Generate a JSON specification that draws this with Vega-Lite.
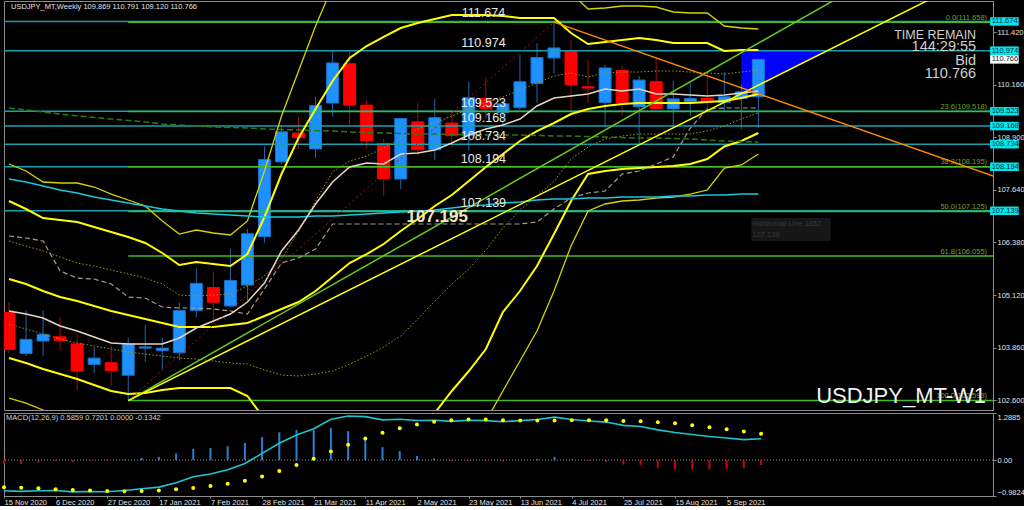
{
"$schema":"https://vega.github.io/schema/vega-lite/v6.json",
"background":"#000000",
"padding":0,
"spacing":3,
"bounds":"flush",
"config":{"view":{"stroke":"#8c8c8c","strokeWidth":1,"fill":"#000000"},"font":"Liberation Sans","axis":{"labelFont":"Liberation Sans","labelColor":"#e0e0e0","labelFontSize":7.5,"grid":false,"domainColor":"#8c8c8c","tickColor":"#8c8c8c","title":null,"labelOverlap":false,"labelBound":false}},
"datasets":{
"wk":[
{"d":"2020-11-15","o":104.70,"h":104.95,"l":103.72,"c":103.82,"u3":108.260,"u2":107.374,"u1":106.416,"m":105.505,"l1":104.428,"l2":103.613,"l3":102.655,"tk":104.739,"kj":106.535,"ma":107.901,"ol":109.601,"macd":-0.84,"sig":-0.74,"hist":-0.10},
{"d":"2020-11-22","o":103.72,"h":104.76,"l":103.66,"c":104.06,"u3":108.092,"u2":107.182,"u1":106.296,"m":105.386,"l1":104.308,"l2":103.493,"l3":102.535,"tk":104.667,"kj":106.487,"ma":107.829,"ol":109.553,"macd":-0.855,"sig":-0.755,"hist":-0.10},
{"d":"2020-11-29","o":104.02,"h":104.76,"l":103.66,"c":104.18,"u3":107.829,"u2":106.966,"u1":106.176,"m":105.218,"l1":104.188,"l2":103.350,"l3":102.368,"tk":104.571,"kj":106.416,"ma":107.733,"ol":109.505,"macd":-0.84,"sig":-0.77,"hist":-0.07},
{"d":"2020-12-06","o":104.12,"h":104.59,"l":103.80,"c":104.03,"u3":107.805,"u2":106.918,"u1":106.032,"m":105.074,"l1":104.068,"l2":103.230,"l3":102.224,"tk":104.380,"kj":105.697,"ma":107.637,"ol":109.457,"macd":-0.83,"sig":-0.80,"hist":-0.03},
{"d":"2020-12-13","o":103.95,"h":104.18,"l":102.86,"c":103.30,"u3":107.805,"u2":106.871,"u1":105.889,"m":104.978,"l1":103.972,"l2":103.110,"l3":102.104,"tk":104.260,"kj":105.529,"ma":107.565,"ol":109.410,"macd":-0.87,"sig":-0.82,"hist":-0.06},
{"d":"2020-12-20","o":103.46,"h":103.88,"l":103.24,"c":103.61,"u3":107.709,"u2":106.751,"u1":105.817,"m":104.859,"l1":103.901,"l2":102.966,"l3":101.913,"tk":104.116,"kj":105.505,"ma":107.469,"ol":109.374,"macd":-0.86,"sig":-0.83,"hist":-0.03},
{"d":"2020-12-27","o":103.50,"h":103.91,"l":102.95,"c":103.31,"u3":107.541,"u2":106.631,"u1":105.721,"m":104.739,"l1":103.829,"l2":102.823,"l3":101.745,"tk":103.972,"kj":105.386,"ma":107.398,"ol":109.338,"macd":-0.866,"sig":-0.846,"hist":-0.02},
{"d":"2021-01-03","o":103.20,"h":104.10,"l":102.593,"c":103.95,"u3":107.398,"u2":106.511,"u1":105.625,"m":104.643,"l1":103.757,"l2":102.751,"l3":101.625,"tk":103.948,"kj":105.074,"ma":107.326,"ol":109.302,"macd":-0.83,"sig":-0.85,"hist":0.02},
{"d":"2021-01-10","o":103.85,"h":104.40,"l":103.52,"c":103.88,"u3":107.254,"u2":106.368,"u1":105.529,"m":104.547,"l1":103.709,"l2":102.775,"l3":101.625,"tk":103.948,"kj":105.050,"ma":107.254,"ol":109.266,"macd":-0.786,"sig":-0.846,"hist":0.06},
{"d":"2021-01-17","o":103.79,"h":104.10,"l":103.34,"c":103.85,"u3":106.895,"u2":106.128,"u1":105.386,"m":104.451,"l1":103.661,"l2":102.847,"l3":101.673,"tk":103.948,"kj":104.835,"ma":107.182,"ol":109.218,"macd":-0.74,"sig":-0.83,"hist":0.09},
{"d":"2021-01-24","o":103.74,"h":104.94,"l":103.55,"c":104.75,"u3":106.583,"u2":105.841,"u1":105.122,"m":104.356,"l1":103.613,"l2":102.895,"l3":101.625,"tk":104.092,"kj":104.811,"ma":107.134,"ol":109.194,"macd":-0.62,"sig":-0.80,"hist":0.18},
{"d":"2021-01-31","o":104.75,"h":105.77,"l":104.59,"c":105.40,"u3":106.679,"u2":105.912,"u1":105.098,"m":104.356,"l1":103.589,"l2":102.895,"l3":101.625,"tk":104.332,"kj":104.811,"ma":107.086,"ol":109.170,"macd":-0.454,"sig":-0.764,"hist":0.31},
{"d":"2021-02-07","o":105.30,"h":105.68,"l":104.46,"c":104.95,"u3":106.607,"u2":105.865,"u1":105.122,"m":104.356,"l1":103.541,"l2":102.895,"l3":101.625,"tk":104.499,"kj":104.787,"ma":107.062,"ol":109.146,"macd":-0.38,"sig":-0.71,"hist":0.33},
{"d":"2021-02-14","o":104.86,"h":106.24,"l":104.82,"c":105.47,"u3":106.559,"u2":105.817,"u1":105.146,"m":104.404,"l1":103.493,"l2":102.895,"l3":101.625,"tk":104.667,"kj":104.739,"ma":107.038,"ol":109.134,"macd":-0.266,"sig":-0.646,"hist":0.38},
{"d":"2021-02-21","o":105.36,"h":106.70,"l":104.99,"c":106.59,"u3":106.895,"u2":106.104,"u1":105.338,"m":104.451,"l1":103.469,"l2":102.703,"l3":101.386,"tk":104.954,"kj":104.667,"ma":107.014,"ol":109.122,"macd":-0.094,"sig":-0.564,"hist":0.47},
{"d":"2021-02-28","o":106.52,"h":108.68,"l":106.37,"c":108.37,"u3":108.092,"u2":106.990,"u1":105.577,"m":104.619,"l1":103.326,"l2":102.152,"l3":100.667,"tk":105.410,"kj":105.266,"ma":106.990,"ol":109.098,"macd":0.184,"sig":-0.446,"hist":0.63},
{"d":"2021-03-07","o":108.31,"h":109.20,"l":108.26,"c":109.03,"u3":109.410,"u2":108.020,"u1":105.984,"m":104.787,"l1":103.206,"l2":101.865,"l3":99.948,"tk":106.176,"kj":105.889,"ma":106.990,"ol":109.086,"macd":0.46,"sig":-0.30,"hist":0.76},
{"d":"2021-03-14","o":109.00,"h":109.39,"l":108.62,"c":108.89,"u3":110.487,"u2":108.883,"u1":106.655,"m":104.954,"l1":103.182,"l2":101.625,"l3":99.230,"tk":106.679,"kj":106.008,"ma":106.990,"ol":109.074,"macd":0.684,"sig":-0.136,"hist":0.82},
{"d":"2021-03-21","o":108.62,"h":109.87,"l":108.41,"c":109.66,"u3":111.565,"u2":109.577,"u1":107.374,"m":105.218,"l1":103.230,"l2":101.434,"l3":98.751,"tk":107.302,"kj":106.224,"ma":107.014,"ol":109.062,"macd":0.856,"sig":0.036,"hist":0.82},
{"d":"2021-03-28","o":109.72,"h":110.99,"l":109.39,"c":110.68,"u3":112.523,"u2":110.248,"u1":108.068,"m":105.553,"l1":103.302,"l2":101.338,"l3":98.392,"tk":107.829,"kj":106.823,"ma":107.014,"ol":109.050,"macd":1.116,"sig":0.236,"hist":0.88},
{"d":"2021-04-04","o":110.66,"h":110.96,"l":109.20,"c":109.67,"u3":113.242,"u2":110.799,"u1":108.332,"m":105.889,"l1":103.469,"l2":101.338,"l3":98.272,"tk":108.188,"kj":106.823,"ma":107.038,"ol":109.026,"macd":1.208,"sig":0.418,"hist":0.79},
{"d":"2021-04-11","o":109.67,"h":109.80,"l":108.62,"c":108.82,"u3":113.577,"u2":111.086,"u1":108.451,"m":106.104,"l1":103.661,"l2":101.386,"l3":98.392,"tk":108.284,"kj":106.823,"ma":107.062,"ol":109.014,"macd":1.19,"sig":0.59,"hist":0.60},
{"d":"2021-04-18","o":108.75,"h":108.86,"l":107.50,"c":107.91,"u3":113.769,"u2":111.302,"u1":108.643,"m":106.344,"l1":103.877,"l2":101.481,"l3":98.631,"tk":108.260,"kj":106.823,"ma":107.086,"ol":109.002,"macd":1.10,"sig":0.745,"hist":0.355},
{"d":"2021-04-25","o":107.90,"h":109.37,"l":107.66,"c":109.35,"u3":113.937,"u2":111.517,"u1":108.859,"m":106.655,"l1":104.140,"l2":101.673,"l3":99.110,"tk":108.499,"kj":106.823,"ma":107.110,"ol":108.990,"macd":1.118,"sig":0.873,"hist":0.245},
{"d":"2021-05-02","o":109.27,"h":109.73,"l":108.46,"c":108.60,"u3":113.984,"u2":111.637,"u1":109.098,"m":106.942,"l1":104.547,"l2":101.984,"l3":99.709,"tk":108.523,"kj":106.823,"ma":107.134,"ol":108.978,"macd":1.083,"sig":0.973,"hist":0.11},
{"d":"2021-05-09","o":108.60,"h":109.82,"l":108.35,"c":109.37,"u3":113.960,"u2":111.733,"u1":109.242,"m":107.254,"l1":104.978,"l2":102.296,"l3":100.428,"tk":108.595,"kj":106.823,"ma":107.158,"ol":108.978,"macd":1.091,"sig":1.046,"hist":0.045},
{"d":"2021-05-16","o":109.24,"h":109.51,"l":108.65,"c":108.94,"u3":113.984,"u2":111.829,"u1":109.410,"m":107.517,"l1":105.386,"l2":102.823,"l3":101.146,"tk":108.763,"kj":106.823,"ma":107.206,"ol":108.966,"macd":1.06,"sig":1.09,"hist":-0.03},
{"d":"2021-05-23","o":108.94,"h":110.23,"l":108.58,"c":109.85,"u3":113.817,"u2":111.829,"u1":109.577,"m":107.853,"l1":105.745,"l2":103.302,"l3":101.865,"tk":108.954,"kj":106.823,"ma":107.254,"ol":108.966,"macd":1.09,"sig":1.11,"hist":-0.02},
{"d":"2021-05-30","o":109.83,"h":110.33,"l":109.33,"c":109.58,"u3":113.649,"u2":111.829,"u1":109.745,"m":108.188,"l1":106.200,"l2":103.829,"l3":102.104,"tk":109.098,"kj":106.823,"ma":107.278,"ol":108.954,"macd":1.08,"sig":1.11,"hist":-0.03},
{"d":"2021-06-06","o":109.49,"h":109.78,"l":109.19,"c":109.70,"u3":113.457,"u2":111.805,"u1":109.865,"m":108.499,"l1":106.727,"l2":104.715,"l3":102.823,"tk":109.194,"kj":106.823,"ma":107.326,"ol":108.954,"macd":1.05,"sig":1.09,"hist":-0.04},
{"d":"2021-06-13","o":109.61,"h":110.88,"l":109.55,"c":110.23,"u3":113.218,"u2":111.757,"u1":110.032,"m":108.811,"l1":107.158,"l2":105.218,"l3":103.541,"tk":109.338,"kj":106.823,"ma":107.350,"ol":108.954,"macd":1.08,"sig":1.08,"hist":0.0},
{"d":"2021-06-20","o":110.19,"h":111.15,"l":109.73,"c":110.81,"u3":113.098,"u2":111.757,"u1":110.200,"m":109.050,"l1":107.493,"l2":105.817,"l3":104.260,"tk":109.649,"kj":106.871,"ma":107.398,"ol":108.942,"macd":1.11,"sig":1.08,"hist":0.03},
{"d":"2021-06-27","o":110.80,"h":111.658,"l":110.43,"c":111.04,"u3":113.002,"u2":111.757,"u1":110.368,"m":109.242,"l1":107.853,"l2":106.583,"l3":105.218,"tk":109.841,"kj":107.182,"ma":107.422,"ol":108.930,"macd":1.175,"sig":1.085,"hist":0.09},
{"d":"2021-07-04","o":110.96,"h":111.22,"l":109.54,"c":110.16,"u3":112.356,"u2":111.398,"u1":110.440,"m":109.457,"l1":108.380,"l2":107.374,"l3":106.296,"tk":109.889,"kj":107.445,"ma":107.422,"ol":108.930,"macd":1.11,"sig":1.09,"hist":0.02},
{"d":"2021-07-11","o":110.11,"h":110.74,"l":109.73,"c":110.08,"u3":111.972,"u2":111.134,"u1":110.344,"m":109.577,"l1":108.667,"l2":108.020,"l3":107.134,"tk":109.936,"kj":107.565,"ma":107.445,"ol":108.918,"macd":1.07,"sig":1.09,"hist":-0.02},
{"d":"2021-07-18","o":109.73,"h":110.63,"l":109.13,"c":110.56,"u3":111.996,"u2":111.182,"u1":110.440,"m":109.649,"l1":108.859,"l2":108.092,"l3":107.302,"tk":110.056,"kj":107.613,"ma":107.445,"ol":108.906,"macd":1.04,"sig":1.09,"hist":-0.05},
{"d":"2021-07-25","o":110.50,"h":110.62,"l":109.40,"c":109.73,"u3":112.044,"u2":111.230,"u1":110.463,"m":109.697,"l1":108.931,"l2":108.140,"l3":107.374,"tk":110.008,"kj":108.020,"ma":107.469,"ol":108.894,"macd":0.95,"sig":1.07,"hist":-0.12},
{"d":"2021-08-01","o":109.63,"h":110.37,"l":108.72,"c":110.27,"u3":112.044,"u2":111.278,"u1":110.463,"m":109.721,"l1":108.978,"l2":108.164,"l3":107.398,"tk":110.056,"kj":108.092,"ma":107.469,"ol":108.882,"macd":0.92,"sig":1.06,"hist":-0.14},
{"d":"2021-08-08","o":110.23,"h":110.80,"l":109.55,"c":109.59,"u3":112.020,"u2":111.230,"u1":110.487,"m":109.721,"l1":108.978,"l2":108.188,"l3":107.445,"tk":109.936,"kj":108.260,"ma":107.469,"ol":108.882,"macd":0.827,"sig":1.037,"hist":-0.21},
{"d":"2021-08-15","o":109.58,"h":110.25,"l":109.17,"c":109.82,"u3":111.901,"u2":111.158,"u1":110.487,"m":109.721,"l1":108.978,"l2":108.212,"l3":107.469,"tk":109.936,"kj":108.428,"ma":107.493,"ol":108.870,"macd":0.755,"sig":1.01,"hist":-0.255},
{"d":"2021-08-22","o":109.75,"h":110.21,"l":109.41,"c":109.83,"u3":111.877,"u2":111.158,"u1":110.463,"m":109.721,"l1":108.978,"l2":108.260,"l3":107.541,"tk":109.913,"kj":109.122,"ma":107.493,"ol":108.858,"macd":0.70,"sig":0.955,"hist":-0.255},
{"d":"2021-08-29","o":109.83,"h":110.45,"l":109.53,"c":109.75,"u3":111.877,"u2":111.158,"u1":110.440,"m":109.745,"l1":109.050,"l2":108.380,"l3":107.637,"tk":109.889,"kj":109.577,"ma":107.517,"ol":108.835,"macd":0.645,"sig":0.90,"hist":-0.255},
{"d":"2021-09-05","o":109.73,"h":110.46,"l":109.55,"c":109.87,"u3":111.565,"u2":110.966,"u1":110.416,"m":109.769,"l1":109.170,"l2":108.680,"l3":108.164,"tk":109.913,"kj":109.601,"ma":107.517,"ol":108.811,"macd":0.606,"sig":0.846,"hist":-0.24},
{"d":"2021-09-12","o":109.83,"h":110.17,"l":109.09,"c":109.99,"u3":111.517,"u2":110.990,"u1":110.463,"m":109.841,"l1":109.338,"l2":108.811,"l3":108.236,"tk":109.960,"kj":109.601,"ma":107.541,"ol":108.799,"macd":0.56,"sig":0.78,"hist":-0.22},
{"d":"2021-09-19","o":109.869,"h":110.791,"l":109.120,"c":110.766,"u3":111.493,"u2":110.990,"u1":110.511,"m":109.936,"l1":109.481,"l2":109.002,"l3":108.499,"tk":110.008,"kj":109.601,"ma":107.541,"ol":108.787,"macd":0.5859,"sig":0.7201,"hist":-0.1342}
],
"hl":[{"p":111.674,"t":"111.674"},{"p":110.974,"t":"110.974"},{"p":109.523,"t":"109.523"},{"p":109.168,"t":"109.168"},{"p":108.734,"t":"108.734"},{"p":108.194,"t":"108.194"},{"p":107.139,"t":"107.139"}],
"fib":[{"p":111.658,"lab":"0.0(111.658)"},{"p":109.519,"lab":"23.6(109.518)"},{"p":108.195,"lab":"38.2(108.195)"},{"p":107.125,"lab":"50.0(107.125)"},{"p":106.055,"lab":"61.8(106.055)"},{"p":102.593,"lab":"100.0(102.593)"}]
},
"vconcat":[
{
"width":989,"height":409,
"layer":[
{"data":{"values":[{"d":"2021-09-12","t":110.974,"b":109.98},{"d":"2021-10-17","t":110.974,"b":110.974}]},
 "mark":{"type":"area","color":"#0000ff","clip":true,"opacity":1},
 "encoding":{"x":{"field":"d","type":"temporal","axis":null,"scale":{"type":"utc","nice":false,"domain":[{"year":2020,"month":11,"date":15,"utc":true},{"year":2021,"month":12,"date":22,"hours":9,"utc":true}]}},
  "y":{"field":"t","type":"quantitative","scale":{"domain":[102.368,112.164],"nice":false,"zero":false},"axis":{"orient":"right","values":[102.6,103.23,103.86,104.49,105.12,105.75,106.38,107.01,107.64,108.27,108.9,109.53,110.16,110.79,111.42,112.05],"format":".3f","tickSize":3,"labelPadding":1}},
  "y2":{"field":"b"}}},
{"data":{"name":"wk"},"mark":{"type":"rule","strokeWidth":1,"clip":true},
 "encoding":{"x":{"field":"d","type":"temporal","axis":null},"y":{"field":"l","type":"quantitative"},"y2":{"field":"h"},
  "color":{"condition":{"test":"datum.c >= datum.o","value":"#2066aa"},"value":"#9a1010"}}},
{"data":{"name":"wk"},"mark":{"type":"bar","width":12,"strokeWidth":1,"clip":true},
 "encoding":{"x":{"field":"d","type":"temporal","axis":null},"y":{"field":"o","type":"quantitative"},"y2":{"field":"c"},
  "color":{"condition":{"test":"datum.c >= datum.o","value":"#1e90ff"},"value":"#ff0000"},
  "stroke":{"condition":{"test":"datum.c >= datum.o","value":"#1a70c8"},"value":"#ff0000"}}},
{"data":{"name":"hl"},"mark":{"type":"rule","color":"#16a0b0","strokeWidth":1.5},
 "encoding":{"y":{"field":"p","type":"quantitative"}}},
{"data":{"name":"fib"},"mark":{"type":"rule","color":"#44bb22","strokeWidth":1.5,"clip":true},
 "encoding":{"x":{"datum":{"year":2021,"month":1,"date":3,"utc":true},"type":"temporal","axis":null},"x2":{"datum":{"year":2022,"month":1,"date":10,"utc":true}},"y":{"field":"p","type":"quantitative"}}},
{"data":{"name":"fib"},"mark":{"type":"text","color":"#74a024","fontSize":7.5,"align":"right","baseline":"alphabetic","dy":-2.5,"clip":false},
 "encoding":{"x":{"datum":{"year":2021,"month":12,"date":22,"utc":true},"type":"temporal","axis":null},"y":{"field":"p","type":"quantitative"},"text":{"field":"lab"}}},
{"data":{"name":"wk"},"mark":{"type":"line","color":"#d4d400","strokeWidth":1.3,"clip":true},"encoding":{"x":{"field":"d","type":"temporal","axis":null},"y":{"field":"u3","type":"quantitative"}}},
{"data":{"name":"wk"},"mark":{"type":"line","color":"#d4d400","strokeWidth":1.3,"clip":true},"encoding":{"x":{"field":"d","type":"temporal","axis":null},"y":{"field":"l3","type":"quantitative"}}},
{"data":{"name":"wk"},"mark":{"type":"line","color":"#ffff00","strokeWidth":2,"clip":true},"encoding":{"x":{"field":"d","type":"temporal","axis":null},"y":{"field":"u2","type":"quantitative"}}},
{"data":{"name":"wk"},"mark":{"type":"line","color":"#ffff00","strokeWidth":2,"clip":true},"encoding":{"x":{"field":"d","type":"temporal","axis":null},"y":{"field":"l2","type":"quantitative"}}},
{"data":{"name":"wk"},"mark":{"type":"line","color":"#ffff00","strokeWidth":2,"clip":true},"encoding":{"x":{"field":"d","type":"temporal","axis":null},"y":{"field":"m","type":"quantitative"}}},
{"data":{"name":"wk"},"mark":{"type":"line","color":"#9c9c10","strokeWidth":1,"strokeDash":[1.5,2],"clip":true},"encoding":{"x":{"field":"d","type":"temporal","axis":null},"y":{"field":"u1","type":"quantitative"}}},
{"data":{"name":"wk"},"mark":{"type":"line","color":"#9c9c10","strokeWidth":1,"strokeDash":[1.5,2],"clip":true},"encoding":{"x":{"field":"d","type":"temporal","axis":null},"y":{"field":"l1","type":"quantitative"}}},
{"data":{"name":"wk"},"mark":{"type":"line","color":"#2a7a12","strokeWidth":1.5,"strokeDash":[6,3],"clip":true},"encoding":{"x":{"field":"d","type":"temporal","axis":null},"y":{"field":"ol","type":"quantitative"}}},
{"data":{"name":"wk"},"mark":{"type":"line","color":"#18c8dc","strokeWidth":1.5,"clip":true},"encoding":{"x":{"field":"d","type":"temporal","axis":null},"y":{"field":"ma","type":"quantitative"}}},
{"data":{"name":"wk"},"mark":{"type":"line","color":"#a89a8c","strokeWidth":1.2,"strokeDash":[5,3],"clip":true},"encoding":{"x":{"field":"d","type":"temporal","axis":null},"y":{"field":"kj","type":"quantitative"}}},
{"data":{"name":"wk"},"mark":{"type":"line","color":"#e8d6c4","strokeWidth":1.5,"clip":true},"encoding":{"x":{"field":"d","type":"temporal","axis":null},"y":{"field":"tk","type":"quantitative"}}},
{"data":{"values":[{"d":"2021-01-03","p":102.593},{"d":"2021-06-27","p":111.658}]},"mark":{"type":"line","color":"#a01818","strokeWidth":1,"strokeDash":[2,3],"clip":true},"encoding":{"x":{"field":"d","type":"temporal","axis":null},"y":{"field":"p","type":"quantitative"}}},
{"data":{"values":[{"d":"2021-01-03","p":102.593},{"d":"2021-10-31","p":112.543}]},"mark":{"type":"line","color":"#66cc1a","strokeWidth":1.5,"clip":true},"encoding":{"x":{"field":"d","type":"temporal","axis":null},"y":{"field":"p","type":"quantitative"}}},
{"data":{"values":[{"d":"2021-01-03","p":102.593},{"d":"2021-12-12","p":112.599}]},"mark":{"type":"line","color":"#ffff00","strokeWidth":1.5,"clip":true},"encoding":{"x":{"field":"d","type":"temporal","axis":null},"y":{"field":"p","type":"quantitative"}}},
{"data":{"values":[{"d":"2021-06-27","p":111.658},{"d":"2022-01-02","p":107.797}]},"mark":{"type":"line","color":"#ff8c00","strokeWidth":1.5,"clip":true},"encoding":{"x":{"field":"d","type":"temporal","axis":null},"y":{"field":"p","type":"quantitative"}}},
{"data":{"name":"hl"},"mark":{"type":"text","color":"#e8e8e8","fontSize":12.5,"align":"center","baseline":"alphabetic","dy":-4},
 "encoding":{"x":{"datum":{"year":2021,"month":5,"date":29,"utc":true},"type":"temporal","axis":null},"y":{"field":"p","type":"quantitative"},"text":{"field":"t"}}},
{"data":{"values":[{"d":"2021-05-10","p":106.99,"t":"107.195"}]},"mark":{"type":"text","color":"#f4e4c8","fontSize":17,"fontWeight":"bold","align":"center","baseline":"middle"},
 "encoding":{"x":{"field":"d","type":"temporal","axis":null},"y":{"field":"p","type":"quantitative"},"text":{"field":"t"}}},
{"data":{"values":[{"d":"2021-09-16T02:00:00Z","d2":"2021-10-18T17:00:00Z","p":106.416,"p2":106.966}]},"mark":{"type":"rect","color":"#161616"},
 "encoding":{"x":{"field":"d","type":"temporal","axis":null},"x2":{"field":"d2"},"y":{"field":"p","type":"quantitative"},"y2":{"field":"p2"}}},
{"data":{"values":[{"d":"2021-09-16T12:00:00Z","p":106.823,"t":"Horizontal Line 1852"},{"d":"2021-09-16T12:00:00Z","p":106.559,"t":"107.139"}]},"mark":{"type":"text","color":"#383838","fontSize":7.5,"align":"left","baseline":"middle"},
 "encoding":{"x":{"field":"d","type":"temporal","axis":null},"y":{"field":"p","type":"quantitative"},"text":{"field":"t"}}},
{"data":{"values":[{"d":"2021-12-17T12:00:00Z","p":111.36,"t":"TIME REMAIN"}]},"mark":{"type":"text","color":"#d0d0d0","fontSize":12.5,"align":"right","baseline":"middle"},
 "encoding":{"x":{"field":"d","type":"temporal","axis":null},"y":{"field":"p","type":"quantitative"},"text":{"field":"t"}}},
{"data":{"values":[{"d":"2021-12-17T12:00:00Z","p":111.055,"t":"144:29:55"},{"d":"2021-12-17T12:00:00Z","p":110.715,"t":"Bid"},{"d":"2021-12-17T12:00:00Z","p":110.404,"t":"110.766"}]},"mark":{"type":"text","color":"#d0d0d0","fontSize":14.5,"align":"right","baseline":"middle"},
 "encoding":{"x":{"field":"d","type":"temporal","axis":null},"y":{"field":"p","type":"quantitative"},"text":{"field":"t"}}},
{"data":{"values":[{"d":"2021-12-21T14:00:00Z","p":102.703,"t":"USDJPY_MT-W1"}]},"mark":{"type":"text","color":"#f2f2f2","fontSize":22,"align":"right","baseline":"middle"},
 "encoding":{"x":{"field":"d","type":"temporal","axis":null},"y":{"field":"p","type":"quantitative"},"text":{"field":"t"}}},
{"data":{"values":[{"d":"2020-11-15T20:00:00Z","p":112.027,"t":"USDJPY_MT,Weekly  109.869 110.791 109.120 110.766"}]},"mark":{"type":"text","color":"#e0e0e0","fontSize":7.5,"align":"left","baseline":"middle"},
 "encoding":{"x":{"field":"d","type":"temporal","axis":null},"y":{"field":"p","type":"quantitative"},"text":{"field":"t"}}},
{"data":{"values":[{"p":111.674},{"p":110.974},{"p":109.523},{"p":109.168},{"p":108.734},{"p":108.194},{"p":107.139}]},"mark":{"type":"rule","color":"#00e6f0","strokeWidth":8.5,"strokeCap":"butt","clip":false},
 "encoding":{"x":{"datum":{"year":2021,"month":12,"date":23,"hours":6,"utc":true},"type":"temporal","axis":null},"x2":{"datum":{"year":2022,"month":1,"date":4,"utc":true}},"y":{"field":"p","type":"quantitative"}}},
{"data":{"values":[{"p":110.766}]},"mark":{"type":"rule","color":"#ffffff","strokeWidth":8.5,"strokeCap":"butt","clip":false},
 "encoding":{"x":{"datum":{"year":2021,"month":12,"date":23,"hours":6,"utc":true},"type":"temporal","axis":null},"x2":{"datum":{"year":2022,"month":1,"date":4,"utc":true}},"y":{"field":"p","type":"quantitative"}}},
{"data":{"values":[{"p":111.674,"t":"111.674"},{"p":110.974,"t":"110.974"},{"p":110.766,"t":"110.766"},{"p":109.523,"t":"109.523"},{"p":109.168,"t":"109.168"},{"p":108.734,"t":"108.734"},{"p":108.194,"t":"108.194"},{"p":107.139,"t":"107.139"}]},"mark":{"type":"text","color":"#0a2a30","fontSize":7.5,"align":"left","baseline":"middle","dx":1.5,"clip":false},
 "encoding":{"x":{"datum":{"year":2021,"month":12,"date":23,"hours":6,"utc":true},"type":"temporal","axis":null},"y":{"field":"p","type":"quantitative"},"text":{"field":"t"}}}
]
},
{
"width":989,"height":83,
"layer":[
{"data":{"name":"wk"},"mark":{"type":"rule","strokeWidth":2},
 "encoding":{"x":{"field":"d","type":"temporal","scale":{"type":"utc","nice":false,"domain":[{"year":2020,"month":11,"date":15,"utc":true},{"year":2021,"month":12,"date":22,"hours":9,"utc":true}]},
   "axis":{"orient":"bottom","values":[{"year":2020,"month":11,"date":15,"utc":true},{"year":2020,"month":12,"date":6,"utc":true},{"year":2020,"month":12,"date":27,"utc":true},{"year":2021,"month":1,"date":17,"utc":true},{"year":2021,"month":2,"date":7,"utc":true},{"year":2021,"month":2,"date":28,"utc":true},{"year":2021,"month":3,"date":21,"utc":true},{"year":2021,"month":4,"date":11,"utc":true},{"year":2021,"month":5,"date":2,"utc":true},{"year":2021,"month":5,"date":23,"utc":true},{"year":2021,"month":6,"date":13,"utc":true},{"year":2021,"month":7,"date":4,"utc":true},{"year":2021,"month":7,"date":25,"utc":true},{"year":2021,"month":8,"date":15,"utc":true},{"year":2021,"month":9,"date":5,"utc":true}],
   "labelExpr":"utcFormat(datum.value, '%-d %b %Y')","labelAlign":"left","tickSize":2,"labelPadding":0,"labelFontSize":7.5}},
  "y":{"field":"hist","type":"quantitative","scale":{"domain":[-0.9824,1.2885],"nice":false,"zero":false},"axis":{"orient":"right","values":[1.2885,0,-0.9824],"labelExpr":"datum.value == 0 ? '0.00' : format(datum.value, '.4f')","labelFlush":true,"tickSize":3,"labelPadding":1}},
  "y2":{"datum":0},
  "color":{"condition":{"test":"datum.hist < 0","value":"#d00000"},"value":"#2a7fd6"}}},
{"data":{"values":[{"v":0}]},"mark":{"type":"rule","color":"#8c8c8c","strokeWidth":1,"strokeDash":[1,2]},"encoding":{"y":{"field":"v","type":"quantitative"}}},
{"data":{"name":"wk"},"mark":{"type":"line","color":"#1ec4cc","strokeWidth":1.6},"encoding":{"x":{"field":"d","type":"temporal"},"y":{"field":"macd","type":"quantitative"}}},
{"data":{"name":"wk"},"mark":{"type":"circle","color":"#ffff00","size":16,"opacity":1},"encoding":{"x":{"field":"d","type":"temporal"},"y":{"field":"sig","type":"quantitative"}}},
{"data":{"values":[{"d":"2020-11-15T20:00:00Z","v":1.16,"t":"MACD(12,26,9) 0.5859 0.7201 0.0000 -0.1342"}]},"mark":{"type":"text","color":"#d0d0d0","fontSize":7.5,"align":"left","baseline":"middle"},
 "encoding":{"x":{"field":"d","type":"temporal"},"y":{"field":"v","type":"quantitative"},"text":{"field":"t"}}}
]
}
]
}
